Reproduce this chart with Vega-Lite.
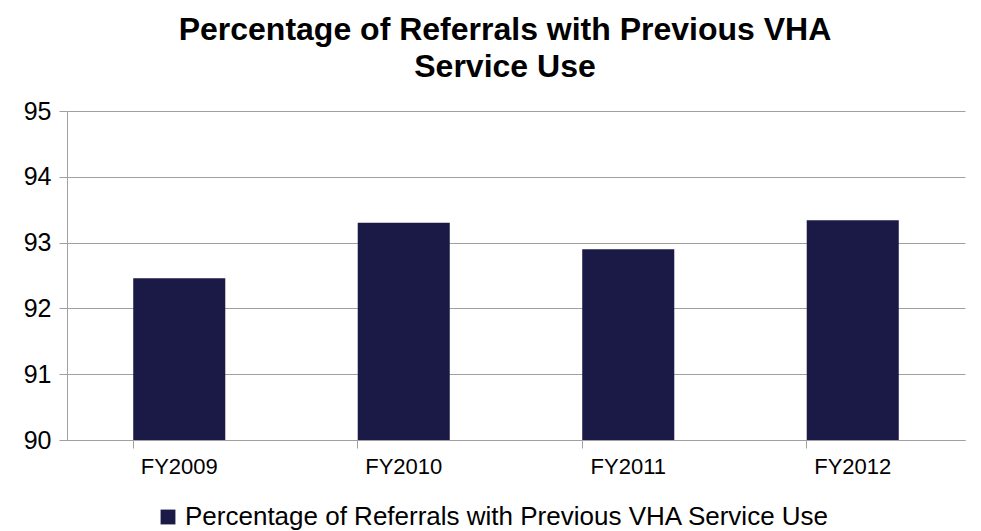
{
  "$schema": "https://vega.github.io/schema/vega-lite/v6.json",
  "autosize": "none",
  "width": 898,
  "height": 329,
  "padding": {"left": 67, "top": 111, "right": 16, "bottom": 91},
  "background": "white",
  "title": {
    "text": ["Percentage of Referrals with Previous VHA", "Service Use"],
    "font": "Liberation Sans",
    "fontSize": 32,
    "fontWeight": "bold",
    "color": "black",
    "anchor": "middle",
    "dx": -11,
    "offset": 15,
    "lineHeight": 37
  },
  "data": {
    "values": [
      {"year": "FY2009", "value": 92.46, "series": "Percentage of Referrals with Previous VHA Service Use"},
      {"year": "FY2010", "value": 93.30, "series": "Percentage of Referrals with Previous VHA Service Use"},
      {"year": "FY2011", "value": 92.90, "series": "Percentage of Referrals with Previous VHA Service Use"},
      {"year": "FY2012", "value": 93.34, "series": "Percentage of Referrals with Previous VHA Service Use"}
    ]
  },
  "mark": {"type": "bar", "clip": true},
  "encoding": {
    "x": {
      "field": "year",
      "type": "nominal",
      "sort": null,
      "title": null,
      "scale": {"paddingInner": 0.59, "paddingOuter": 0.295},
      "axis": {
        "labelAngle": 0,
        "labelFont": "Liberation Sans",
        "labelFontSize": 22,
        "labelColor": "black",
        "labelPadding": 8,
        "domainColor": "#a0a0a0",
        "tickColor": "#a0a0a0",
        "tickSize": 8,
        "bandPosition": 0,
        "grid": false
      }
    },
    "y": {
      "field": "value",
      "type": "quantitative",
      "title": null,
      "scale": {"domain": [90, 95], "zero": false, "nice": false},
      "axis": {
        "values": [90, 91, 92, 93, 94, 95],
        "labelFont": "Liberation Sans",
        "labelFontSize": 25,
        "labelColor": "black",
        "labelPadding": 8,
        "domainColor": "#a0a0a0",
        "tickColor": "#a0a0a0",
        "tickSize": 8,
        "gridColor": "#a0a0a0",
        "gridOpacity": 1
      }
    },
    "color": {
      "field": "series",
      "type": "nominal",
      "scale": {"range": ["#1b1a47"]},
      "legend": {
        "title": null,
        "orient": "none",
        "legendX": 88,
        "legendY": 393,
        "direction": "horizontal",
        "symbolType": "square",
        "symbolSize": 220,
        "symbolOpacity": 1,
        "labelFont": "Liberation Sans",
        "labelFontSize": 26,
        "labelColor": "black",
        "labelLimit": 1000
      }
    }
  },
  "config": {
    "view": {"stroke": null},
    "axis": {"gridWidth": 1, "domainWidth": 1}
  }
}
